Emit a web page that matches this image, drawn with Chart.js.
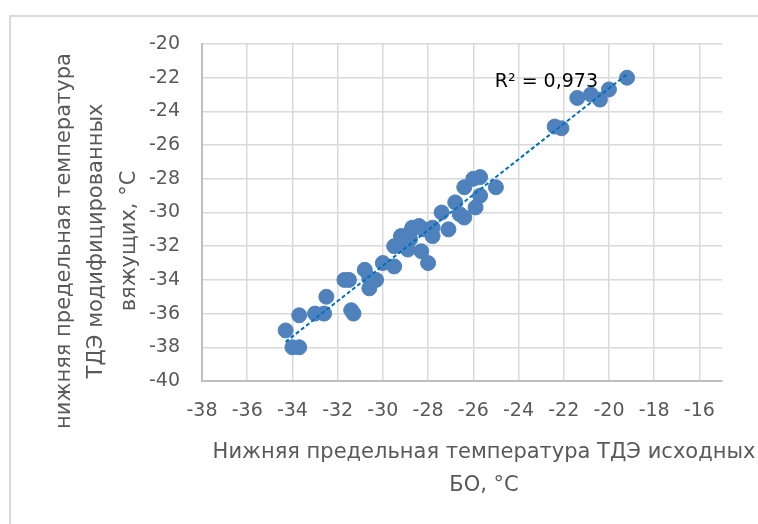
<!DOCTYPE html>
<html>
<head>
<meta charset="utf-8">
<script src="https://cdn.jsdelivr.net/npm/chart.js@4"></script>
<style>
  html, body { margin: 0; padding: 0; background: #fff; }
  #wrap { position: relative; width: 758px; height: 524px; }
</style>
</head>
<body>
<div id="wrap"><canvas id="tempChart"></canvas></div>
<script>
// values (°C)
var xValues = [-34.3, -34.0, -33.7, -33.7, -33.0, -32.6, -32.5, -31.7, -31.5, -31.4, -31.3,
  -30.8, -30.6, -30.6, -30.3, -30.0, -29.5, -29.5, -29.2, -29.2, -28.9, -28.8, -28.8, -28.7,
  -28.4, -28.2, -28.3, -28.0, -27.8, -27.8, -27.4, -27.1, -26.8, -26.6, -26.4, -26.4, -26.0,
  -25.7, -25.9, -25.7, -25.0, -22.4, -22.1, -21.4, -20.8, -20.4, -20.0, -19.2];
var yValues = [-37.0, -38.0, -38.0, -36.1, -36.0, -36.0, -35.0, -34.0, -34.0, -35.8, -36.0,
  -33.4, -33.9, -34.5, -34.0, -33.0, -33.2, -32.0, -31.9, -31.4, -32.2, -31.6, -31.2, -30.9,
  -30.8, -31.0, -32.3, -33.0, -31.4, -30.9, -30.0, -31.0, -29.4, -30.1, -30.3, -28.5, -28.0,
  -27.9, -29.7, -29.0, -28.5, -24.9, -25.0, -23.2, -23.0, -23.3, -22.7, -22.0];

var xTicks = [-38, -36, -34, -32, -30, -28, -26, -24, -22, -20, -18, -16];
var yTicks = [-40, -38, -36, -34, -32, -30, -28, -26, -24, -22, -20];

var xTitle = ['Нижняя предельная температура ТДЭ исходных', 'БО, °C'];
var yTitle = ['нижняя предельная температура', 'ТДЭ модифицированных', 'вяжущих, °C'];
var r2Label = 'R² = 0,973';

var fontFamily = '"DejaVu Sans", sans-serif';

// linear trend (least squares) from the data
function linearFit(xs, ys) {
  var n = xs.length, sx = 0, sy = 0, sxx = 0, sxy = 0;
  for (var i = 0; i < n; i++) {
    sx += xs[i]; sy += ys[i];
    sxx += xs[i] * xs[i]; sxy += xs[i] * ys[i];
  }
  var slope = (n * sxy - sx * sy) / (n * sxx - sx * sx);
  return { slope: slope, intercept: (sy - slope * sx) / n };
}

var fit = linearFit(xValues, yValues);
var minX = Math.min.apply(null, xValues);
var maxX = Math.max.apply(null, xValues);

var points = xValues.map(function(x, i) { return { x: x, y: yValues[i] }; });
var trend = [
  { x: minX, y: fit.slope * minX + fit.intercept },
  { x: maxX, y: fit.slope * maxX + fit.intercept }
];

// frame, axis titles and R² label
var chartDecor = {
  id: 'chartDecor',
  beforeDraw: function(chart) {
    var ctx = chart.ctx;
    ctx.save();
    ctx.strokeStyle = '#d9d9d9';
    ctx.lineWidth = 2;
    ctx.beginPath();
    ctx.moveTo(10, 524);
    ctx.lineTo(10, 16);
    ctx.lineTo(758, 16);
    ctx.stroke();
    ctx.restore();
  },
  afterDraw: function(chart) {
    var ctx = chart.ctx;
    ctx.save();
    ctx.font = '21px ' + fontFamily;
    ctx.fillStyle = '#595959';
    ctx.textAlign = 'center';
    ctx.textBaseline = 'middle';

    ctx.fillText(xTitle[0], 484, 453);
    ctx.fillText(xTitle[1], 484, 486);

    var yLineX = [65, 97, 130];
    yTitle.forEach(function(line, i) {
      ctx.save();
      ctx.translate(yLineX[i], 241);
      ctx.rotate(-Math.PI / 2);
      ctx.fillText(line, 0, 0);
      ctx.restore();
    });

    var sx = chart.scales.x, sy = chart.scales.y;
    ctx.font = '19px ' + fontFamily;
    ctx.fillStyle = '#000000';
    ctx.textAlign = 'left';
    ctx.fillText(r2Label, sx.getPixelForValue(-25.05), sy.getPixelForValue(-22.27));
    ctx.restore();
  }
};

var ctx = document.getElementById('tempChart').getContext('2d');
var chart = new Chart(ctx, {
  type: 'scatter',
  data: {
    datasets: [{
      type: 'line',
      data: trend,
      borderColor: '#0070c0',
      borderWidth: 2,
      borderDash: [4, 2.5],
      pointRadius: 0,
      fill: false,
      order: 0
    }, {
      data: points,
      backgroundColor: '#4f81bd',
      borderColor: '#4f81bd',
      borderWidth: 1,
      pointRadius: 7.5,
      order: 1
    }]
  },
  options: {
    responsive: true,
    maintainAspectRatio: false,
    animation: false,
    layout: { padding: { left: 142, top: 44, right: 36, bottom: 103 } },
    plugins: {
      legend: { display: false },
      tooltip: { enabled: false }
    },
    scales: {
      x: {
        type: 'linear',
        min: -38,
        max: -15,
        afterBuildTicks: function(scale) {
          scale.ticks = xTicks.map(function(v) { return { value: v }; });
        },
        afterFit: function(scale) {
          scale.height = 40;
          scale.paddingLeft = 0; scale.paddingRight = 0;
        },
        grid: { color: '#d9d9d9', lineWidth: 1.5, drawTicks: false },
        border: { color: '#bfbfbf', width: 2 },
        ticks: {
          padding: 19,
          color: '#595959',
          font: { family: fontFamily, size: 19 },
          callback: function(v) { return String(v); }
        }
      },
      y: {
        type: 'linear',
        min: -40,
        max: -20,
        afterBuildTicks: function(scale) {
          scale.ticks = yTicks.map(function(v) { return { value: v }; });
        },
        afterFit: function(scale) {
          scale.width = 60;
          scale.paddingTop = 0; scale.paddingBottom = 0;
        },
        grid: { color: '#d9d9d9', lineWidth: 1.5, drawTicks: false },
        border: { color: '#bfbfbf', width: 2 },
        ticks: {
          padding: 22,
          color: '#595959',
          font: { family: fontFamily, size: 19 },
          callback: function(v) { return String(v); }
        }
      }
    }
  },
  plugins: [chartDecor]
});
</script>
</body>
</html>
